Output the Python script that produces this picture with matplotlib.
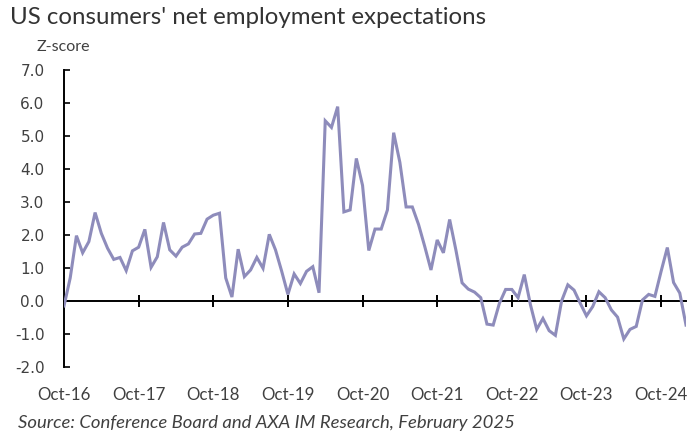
#!/usr/bin/env python3
"""US consumers' net employment expectations (z-score), monthly Oct-16 .. Feb-25."""

import numpy as np
import matplotlib
matplotlib.use('Agg')
import matplotlib.pyplot as plt
import matplotlib.transforms as mtransforms

# monthly z-score, starting Oct-2016
zscore = [
    -0.15, 0.70, 1.98, 1.46, 1.80, 2.68, 2.05, 1.60, 1.26, 1.32, 0.92, 1.52,   # Oct-16 .. Sep-17
    1.63, 2.17, 1.02, 1.34, 2.38, 1.55, 1.36, 1.63, 1.73, 2.03, 2.05, 2.48,    # Oct-17 .. Sep-18
    2.60, 2.66, 0.70, 0.12, 1.57, 0.74, 0.94, 1.32, 0.99, 2.02, 1.55, 0.90,    # Oct-18 .. Sep-19
    0.20, 0.82, 0.53, 0.90, 1.04, 0.25, 5.46, 5.26, 5.89, 2.70, 2.76, 4.32,    # Oct-19 .. Sep-20
    3.50, 1.53, 2.18, 2.18, 2.76, 5.10, 4.20, 2.85, 2.85, 2.32, 1.65, 0.94,    # Oct-20 .. Sep-21
    1.85, 1.46, 2.47, 1.55, 0.55, 0.36, 0.27, 0.10, -0.70, -0.73, -0.07, 0.35, # Oct-21 .. Sep-22
    0.35, 0.10, 0.80, -0.12, -0.86, -0.53, -0.90, -1.04, 0.00, 0.49, 0.33, -0.07,  # Oct-22 .. Sep-23
    -0.45, -0.17, 0.28, 0.10, -0.27, -0.49, -1.15, -0.86, -0.77, 0.03, 0.20, 0.14, # Oct-23 .. Sep-24
    0.90, 1.62, 0.56, 0.24, -0.73,                                             # Oct-24 .. Feb-25
]
tick_labels = ['Oct-16', 'Oct-17', 'Oct-18', 'Oct-19', 'Oct-20',
               'Oct-21', 'Oct-22', 'Oct-23', 'Oct-24']
y_ticks = [-2, -1, 0, 1, 2, 3, 4, 5, 6, 7]

TITLE = "US consumers' net employment expectations"
SOURCE = 'Source: Conference Board and AXA IM Research, February 2025'
LINE_COLOR = '#8E8CBB'
TEXT_COLOR = '#404040'


def main():
    fig = plt.figure(figsize=(6.89, 4.32), dpi=100)
    ax = fig.add_axes([64 / 689, 1 - 367 / 432, 622 / 689, 297 / 432])

    x = np.arange(len(zscore))
    ax.plot(x, zscore, color=LINE_COLOR, lw=2.2, solid_joinstyle='miter', zorder=3)

    ax.set_xlim(0, len(zscore) - 1)
    ax.set_ylim(min(y_ticks), max(y_ticks))

    # y axis: left spine, inward ticks
    ax.set_yticks(y_ticks)
    ax.set_yticklabels([f'{v:.1f}' for v in y_ticks], fontsize=11,
                       color=TEXT_COLOR, family='DejaVu Sans')
    ax.tick_params(axis='y', direction='in', length=4, width=1.2, pad=14,
                   color='black')

    # x axis line sits at zero, labels stay at the bottom
    for s in ('top', 'right'):
        ax.spines[s].set_visible(False)
    ax.spines['left'].set_linewidth(1.4)
    ax.spines['bottom'].set_position(('data', 0))
    ax.spines['bottom'].set_linewidth(1.4)
    xt = np.arange(len(tick_labels)) * 12
    ax.set_xticks(xt[1:])
    ax.set_xticklabels([])
    ax.tick_params(axis='x', direction='inout', length=9, width=1.4, color='black')
    trans = mtransforms.blended_transform_factory(ax.transData, ax.transAxes)
    for pos, lab in zip(xt, tick_labels):
        ax.text(pos, -0.094, lab, transform=trans, ha='center', va='center',
                fontsize=12.2, family='Lato', color=TEXT_COLOR)

    fig.text(10 / 689, 1 - 18 / 432, TITLE, ha='left', va='center',
             fontsize=17.3, family='Lato', color='#333333')
    fig.text(37 / 689, 1 - 47 / 432, 'Z-score', ha='left', va='center',
             fontsize=11.5, family='Lato', color=TEXT_COLOR)
    fig.text(18 / 689, 1 - 423 / 432, SOURCE, ha='left', va='center',
             fontsize=13.3, family='Lato', style='italic', color=TEXT_COLOR)

    fig.savefig('out.png', dpi=100)


if __name__ == '__main__':
    main()
